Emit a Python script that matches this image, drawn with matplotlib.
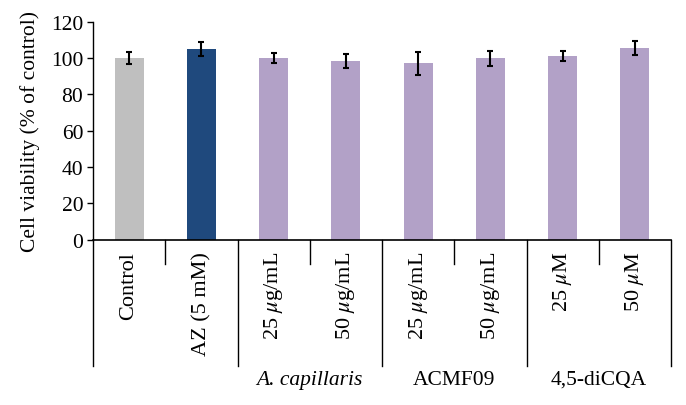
import matplotlib
matplotlib.use('agg')
import matplotlib.pyplot as plt
import matplotlib.transforms as mtransforms

plt.rcParams['font.family'] = 'Liberation Serif'
plt.rcParams['mathtext.fontset'] = 'stix'

labels = ["Control", "AZ (5 mM)", "25 $\\mu$g/mL", "50 $\\mu$g/mL",
          "25 $\\mu$g/mL", "50 $\\mu$g/mL", "25 $\\mu$M", "50 $\\mu$M"]
values = [100, 105, 100, 98.3, 97.2, 99.8, 101.1, 105.5]
errors = [3.3, 4.0, 2.7, 3.7, 6.3, 4.0, 2.7, 4.0]
colors = ["#BFBFBF", "#1F497D", "#B2A1C7", "#B2A1C7",
          "#B2A1C7", "#B2A1C7", "#B2A1C7", "#B2A1C7"]
groups = [("A. capillaris", 2.5, "italic"), ("ACMF09", 4.5, "normal"),
          ("4,5-diCQA", 6.5, "normal")]

fig = plt.figure(figsize=(6.86, 4.06), dpi=100)
ax = fig.add_axes([93/686, 165.3/406, 578/686, 218/406])

x = range(len(values))
ax.bar(x, values, width=0.4, color=colors)
ax.errorbar(x, values, yerr=errors, fmt='none', ecolor='black',
            elinewidth=1.5, capsize=2.5, capthick=1.5)

ax.set_xlim(-0.5, 7.5)
ax.set_ylim(0, 120)
ax.set_yticks(range(0, 121, 20))
ax.tick_params(axis='y', labelsize=15.5, length=4, width=1, pad=3)
ax.set_xticks(list(x))
ax.set_xticklabels(labels, rotation=90, va='top', fontsize=16)
ax.tick_params(axis='x', length=0, pad=8)
ax.set_ylabel("Cell viability (% of control)", fontsize=15.5, labelpad=8)

for s in ['top', 'right']:
    ax.spines[s].set_visible(False)
ax.spines['bottom'].set_linewidth(1.2)
ax.spines['left'].set_linewidth(1)

trans = mtransforms.blended_transform_factory(ax.transData, ax.transAxes)
for b in range(9):
    xb = b - 0.5
    bottom = -0.58 if b % 2 == 0 else -0.112
    ax.plot([xb, xb], [0, bottom], color='black', lw=1,
            transform=trans, clip_on=False)

for name, xc, style in groups:
    ax.text(xc, -0.64, name, transform=trans, ha='center', va='center',
            fontsize=15.5, style=style)

plt.savefig("out.png", dpi=100)
plt.close()
